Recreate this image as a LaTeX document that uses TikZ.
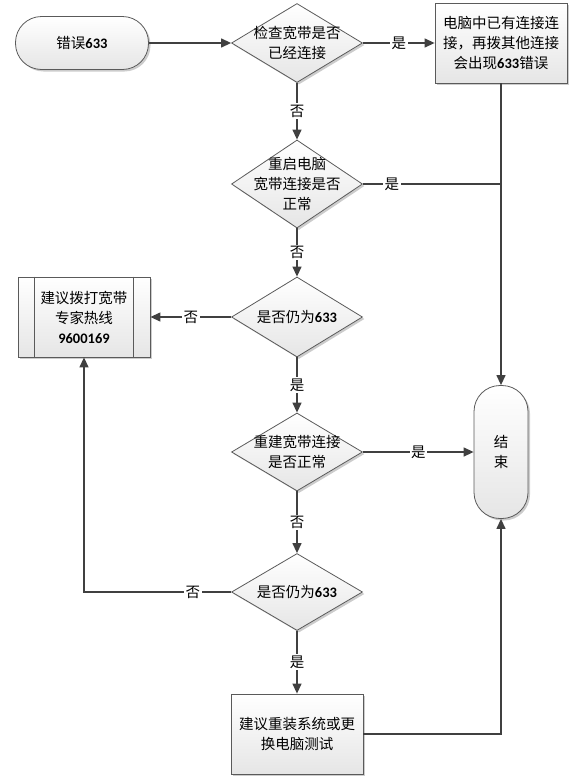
\documentclass[tikz,border=0pt]{standalone}
\usepackage{fontspec}
\setmainfont{Carlito}
\newfontfamily\cjk{Noto Sans CJK SC}
\usetikzlibrary{
    shapes.geometric,
    arrows.meta,
    positioning,
    calc,
    shadows
}
\definecolor{edge}{HTML}{404040}
\definecolor{frame}{HTML}{5A5A5A}
\newcommand\bnum[1]{{\normalfont\bfseries #1}}
\tikzset{
    % Base look of every box
    boxbase/.style={
        draw=frame,
        line width=0.8pt,
        top color=white,
        bottom color=black!10,
        align=center,
        font=\cjk\fontsize{14.5}{20}\selectfont,
        text=black,
        drop shadow={shadow xshift=2pt, shadow yshift=-2pt, opacity=0.2, fill=black}
    },
    % Start / end caps
    terminal/.style={
        boxbase,
        rectangle,
        rounded corners=26pt,
        minimum width=133pt,
        minimum height=53pt
    },
    endcap/.style={
        boxbase,
        rectangle,
        rounded corners=26pt,
        minimum width=54pt,
        minimum height=133pt
    },
    % Decision style
    decision/.style={
        boxbase,
        diamond,
        inner sep=-15pt,
        minimum width=131pt,
        minimum height=#1
    },
    % Process style
    process/.style={
        boxbase,
        rectangle,
        minimum width=132pt,
        minimum height=80pt
    },
    % Arrow styles
    flow/.style={
        -{Triangle[length=10pt, width=9pt]},
        line width=1.3pt,
        color=edge
    },
    link/.style={
        line width=1.3pt,
        color=edge
    },
    % Yes / no label style
    answer/.style={
        font=\cjk\fontsize{14.5}{16}\selectfont,
        text=black,
        fill=white,
        inner sep=1.5pt
    }
}

\begin{document}
\begin{tikzpicture}[x=1pt, y=-1pt]
        \useasboundingbox (0,0) rectangle (570,780);

        % Start and checks
        \node[terminal] (start) at (82, 43) {错误\bnum{633}};
        \node[decision=79pt] (check) at (297, 43) {检查宽带是否\\已经连接};
        \node[process] (busy) at (501, 43) {电脑中已有连接连\\接，再拨其他连接\\会出现\bnum{633}错误};
        \node[decision=88pt] (reboot) at (297, 184) {重启电脑\\宽带连接是否\\正常};
        \node[decision=80pt] (still1) at (297, 317) {是否仍为\bnum{633}};
        \node[process] (hotline) at (84, 317) {建议拨打宽带\\专家热线\\\bnum{9600169}};
        \draw[frame, line width=0.8pt] ([xshift=17pt]hotline.north west) -- ([xshift=17pt]hotline.south west);
        \draw[frame, line width=0.8pt] ([xshift=-17pt]hotline.north east) -- ([xshift=-17pt]hotline.south east);
        \node[decision=78pt] (rebuild) at (297, 452) {重建宽带连接\\是否正常};
        \node[decision=77pt] (still2) at (297, 592) {是否仍为\bnum{633}};
        \node[process] (reinstall) at (297, 734) {建议重装系统或更\\换电脑测试};
        \node[endcap] (finish) at (501, 452) {结\\束};

        % Connections
        \draw[flow] (start.east) -- (check.west);
        \draw[flow] (check.east) -- node[answer] {是} (busy.west);
        \draw[flow] (check.south) -- node[answer] {否} (reboot.north);
        \draw[flow] (busy.south) -- (finish.north);
        \draw[link] (reboot.east) -- node[answer, pos=0.21] {是} (reboot.east -| busy.south);
        \draw[flow] (reboot.south) -- node[answer] {否} (still1.north);
        \draw[flow] (still1.west) -- node[answer] {否} (hotline.east);
        \draw[flow] (still1.south) -- node[answer] {是} (rebuild.north);
        \draw[flow] (rebuild.east) -- node[answer] {是} (finish.west);
        \draw[flow] (rebuild.south) -- node[answer] {否} (still2.north);
        \draw[flow] (still2.west) -| node[answer, pos=0.13] {否} (hotline.south);
        \draw[flow] (still2.south) -- node[answer] {是} (reinstall.north);
        \draw[flow] (reinstall.east) -| (finish.south);

    \end{tikzpicture}
\end{document}
